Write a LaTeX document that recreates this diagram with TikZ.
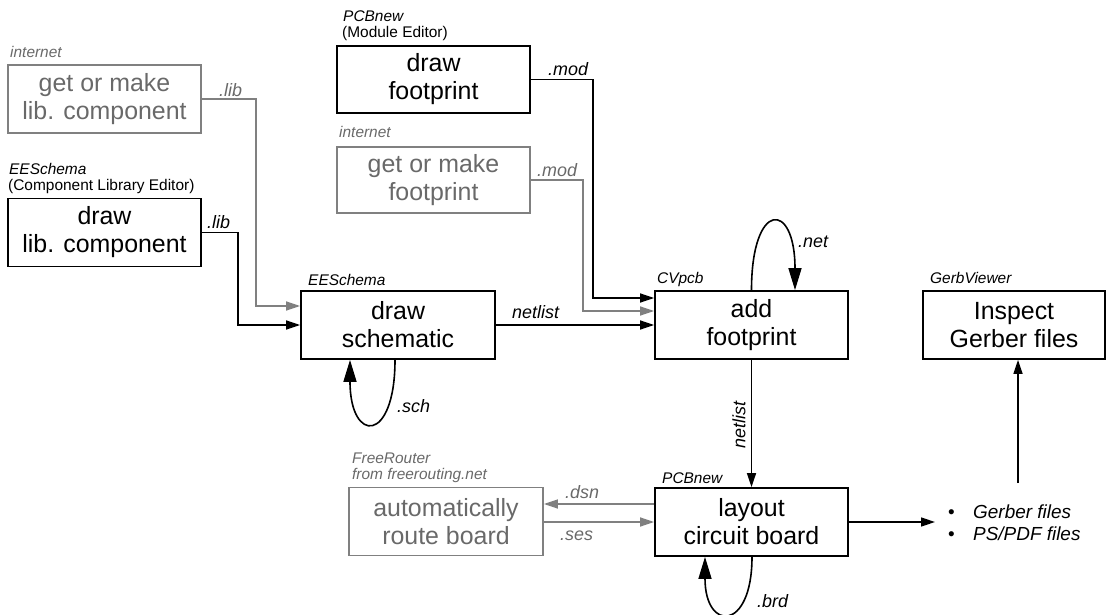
\documentclass[tikz,border=0pt]{standalone}
\usepackage{fontspec}
\setmainfont{Liberation Sans}
\usetikzlibrary{arrows.meta}
\definecolor{gline}{RGB}{128,128,128}
\definecolor{gtext}{RGB}{105,105,105}
\begin{document}
\begin{tikzpicture}[x=1bp,y=-1bp,
 box/.style={draw, line width=1.8bp, minimum width=193bp, minimum height=68bp, align=center, font=\fontsize{25}{28}\selectfont, inner sep=0pt},
 gbox/.style={box, draw=gline, text=gtext},
 tagi/.style={anchor=base west, inner sep=0pt, font=\fontsize{15.5}{18}\selectfont\itshape},
 tagu/.style={anchor=base west, inner sep=0pt, font=\fontsize{15.5}{18}\selectfont},
 elab/.style={anchor=base west, inner sep=0pt, font=\fontsize{18}{20}\selectfont\itshape},
 conn/.style={line width=1.6bp, -{Triangle[length=14bp,width=9bp]}},
 gconn/.style={conn, color=gline},
 loopar/.style={line width=1.6bp, -{Triangle[length=22bp,width=13bp]}},
]
\useasboundingbox (0,0) rectangle (1107,615);

% boxes
\node[gbox] (glib) at (104.5,99) {get or make\\lib. component};
\node[box] (dlib) at (104.5,232.5) {draw\\lib. component};
\node[box, minimum width=194bp] (dsch) at (398,325) {draw\\schematic};
\node[box, minimum height=67bp] (dfp) at (433.5,79.5) {draw\\footprint};
\node[gbox, minimum height=66bp] (gfp) at (433.5,180) {get or make\\footprint};
\node[box] (addfp) at (751.5,325) {add\\footprint};
\node[box, minimum width=182bp] (insp) at (1014,325) {Inspect\\Gerber files};
\node[box] (layout) at (751.5,522) {layout\\circuit board};
\node[gbox, minimum width=194bp] (auto) at (446,521.5) {automatically\\route board};

% tags above boxes
\node[tagi, text=gtext] (t1) at (10,58) {internet};
\node[tagi] (t2) at (9,175) {EESchema};
\node[tagu] (t3) at (8,191) {(Component Library Editor)};
\node[tagi] (t4) at (343,22) {PCBnew};
\node[tagu] (t5) at (342,38) {(Module Editor)};
\node[tagi, text=gtext] (t6) at (339,138) {internet};
\node[tagi] (t7) at (308,286) {EESchema};
\node[tagi] (t8) at (657,284) {CVpcb};
\node[tagi] (t9) at (930,284) {GerbViewer};
\node[tagi, text=gtext] (t10) at (352,463) {FreeRouter};
\node[tagi, text=gtext] (t11) at (352,479) {from freerouting.net};
\node[tagi] (t12) at (662,483) {PCBnew};

% connectors
\draw[gconn] (glib.east) -- ++(54,0) |- ([yshift=19bp]dsch.west);
\draw[conn] (dlib.east) -- ++(36,0) |- (dsch.west);
\draw[conn] (dfp.east) -- ++(62,0) |- ([yshift=27bp]addfp.west);
\draw[gconn] (gfp.east) -- ++(52,0) |- ([yshift=14bp]addfp.west);
\draw[conn] (dsch.east) -- (addfp.west);
\draw[conn] (addfp.south) -- (layout.north);
\coordinate (outend) at (935,522);
\draw[conn] (layout.east) -- (outend);
\coordinate (gerbtop) at (1018,483);
\draw[conn] (gerbtop) -- (insp.south -| gerbtop);
\draw[gconn] ([yshift=18bp]layout.west) -- ([yshift=18bp]layout.west -| auto.east);
\draw[gconn] (auto.east |- layout.west) -- (layout.west);

% loops
\draw[loopar] (addfp.north) .. controls +(0,-90) and +(0,-90) .. ([xshift=43.5bp]addfp.north);
\draw[loopar] ([xshift=-3bp]dsch.south) .. controls +(0,84) and +(0,84) .. ([xshift=-48bp]dsch.south);
\draw[loopar] ([xshift=0.5bp]layout.south) .. controls +(0,75) and +(0,75) .. ([xshift=-46.5bp]layout.south);

% edge labels
\node[elab, text=gtext] (l1) at (219,97) {.lib};
\node[elab] (l2) at (207,229) {.lib};
\node[elab] (l3) at (548,76) {.mod};
\node[elab, text=gtext] (l4) at (537,177) {.mod};
\node[elab] (l5) at (512,319) {netlist};
\node[elab] (l6) at (798,248) {.net};
\node[elab] (l7) at (397,412) {.sch};
\node[elab] (l8) at (757,607) {.brd};
\node[elab, text=gtext] (l9) at (565,498) {.dsn};
\node[elab, text=gtext] (l10) at (560,540) {.ses};
\node[inner sep=0pt, rotate=90, font=\fontsize{18}{20}\selectfont\itshape] (l11) at (739,425) {netlist};

% output files
\node[anchor=base west, inner sep=0pt, font=\fontsize{19}{22}\selectfont] (b1) at (948,518) {•};
\node[anchor=base west, inner sep=0pt, font=\fontsize{19}{22}\selectfont\itshape] (f1) at (973,518) {Gerber files};
\node[anchor=base west, inner sep=0pt, font=\fontsize{19}{22}\selectfont] (b2) at (948,540) {•};
\node[anchor=base west, inner sep=0pt, font=\fontsize{19}{22}\selectfont\itshape] (f2) at (973,540) {PS/PDF files};
\end{tikzpicture}
\end{document}
